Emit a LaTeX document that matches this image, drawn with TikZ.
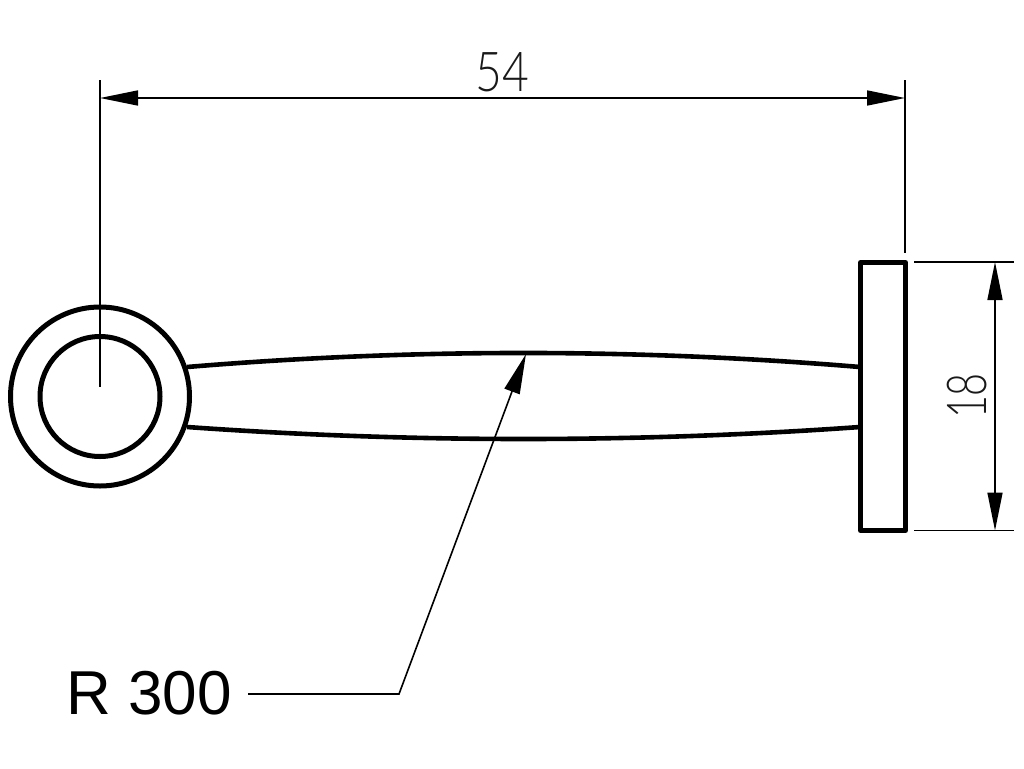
\documentclass[tikz,border=0pt]{standalone}
\usepackage{fontspec}
\setmainfont{Liberation Sans}
\IfFontExistsTF{Lato Light}{\newfontfamily\isofont{Lato Light}}{\newfontfamily\isofont{Lato}}
\usetikzlibrary{arrows.meta}
\tikzset{
  part/.style={line width=5pt,line join=round},
  thin dim/.style={line width=1.6pt},
  dimarrow/.style={thin dim,{Triangle[length=38pt,width=15pt]}-{Triangle[length=38pt,width=15pt]}},
  leaderarrow/.style={thin dim,-{Triangle[length=40pt,width=16pt]}},
  dimtext/.style={inner sep=0pt,font=\isofont\fontsize{55}{55}\selectfont,text=black!90},
  bigtext/.style={inner sep=0pt,font=\fontsize{62}{62}\selectfont}
}
\begin{document}
\begin{tikzpicture}[x=1pt,y=-1pt]
\useasboundingbox (0,0) rectangle (1024,768);
% named points
\coordinate (c) at (100,396.5);
\coordinate (extLtop) at (100,80);
\coordinate (extLend) at (100,387);
\coordinate (extRtop) at (905,80);
\coordinate (extRend) at (905,253);
\coordinate (dimL) at (100,98);
\coordinate (dimR) at (905,98);
\coordinate (hT1) at (914,262);
\coordinate (hT2) at (1014,262);
\coordinate (hB1) at (914,530.5);
\coordinate (hB2) at (1014,530.5);
\coordinate (vT) at (995,262);
\coordinate (vB) at (995,530.5);
\coordinate (lead0) at (248,694);
\coordinate (lead1) at (399,694);
\coordinate (leadtip) at (526,354);
% part
\draw[part] (c) circle[radius=89.5];
\draw[part] (c) circle[radius=60];
\node[draw,part,outer sep=0pt,minimum width=45pt,minimum height=268pt,inner sep=0pt] (flange) at (883,396.5) {};
\coordinate (a1) at (187,367);
\coordinate (a2) at (860,367);
\coordinate (b1) at (187,427);
\coordinate (b2) at (860,427);
\draw[line width=4.6pt] (a1) .. controls (411,348.3) and (636,348.3) .. (a2);
\draw[line width=4.6pt] (b1) .. controls (411,443) and (636,443) .. (b2);
% extension lines
\draw[thin dim] (extLtop) -- (extLend);
\draw[thin dim] (extRtop) -- (extRend);
\draw[thin dim] (hT1) -- (hT2);
\draw[thin dim] (hB1) -- (hB2);
% dimensions
\draw[dimarrow] (dimL) -- (dimR);
\draw[dimarrow] (vT) -- (vB);
\draw[leaderarrow] (lead0) -- (lead1) -- (leadtip);
% labels
\node[dimtext,xscale=.84] (d54) at (502.5,72) {54};
\node[dimtext,rotate=90,xscale=.72] (d18) at (967,396) {18};
\node[bigtext,anchor=base west] (r) at (66,714) {R 300};
\end{tikzpicture}
\end{document}
